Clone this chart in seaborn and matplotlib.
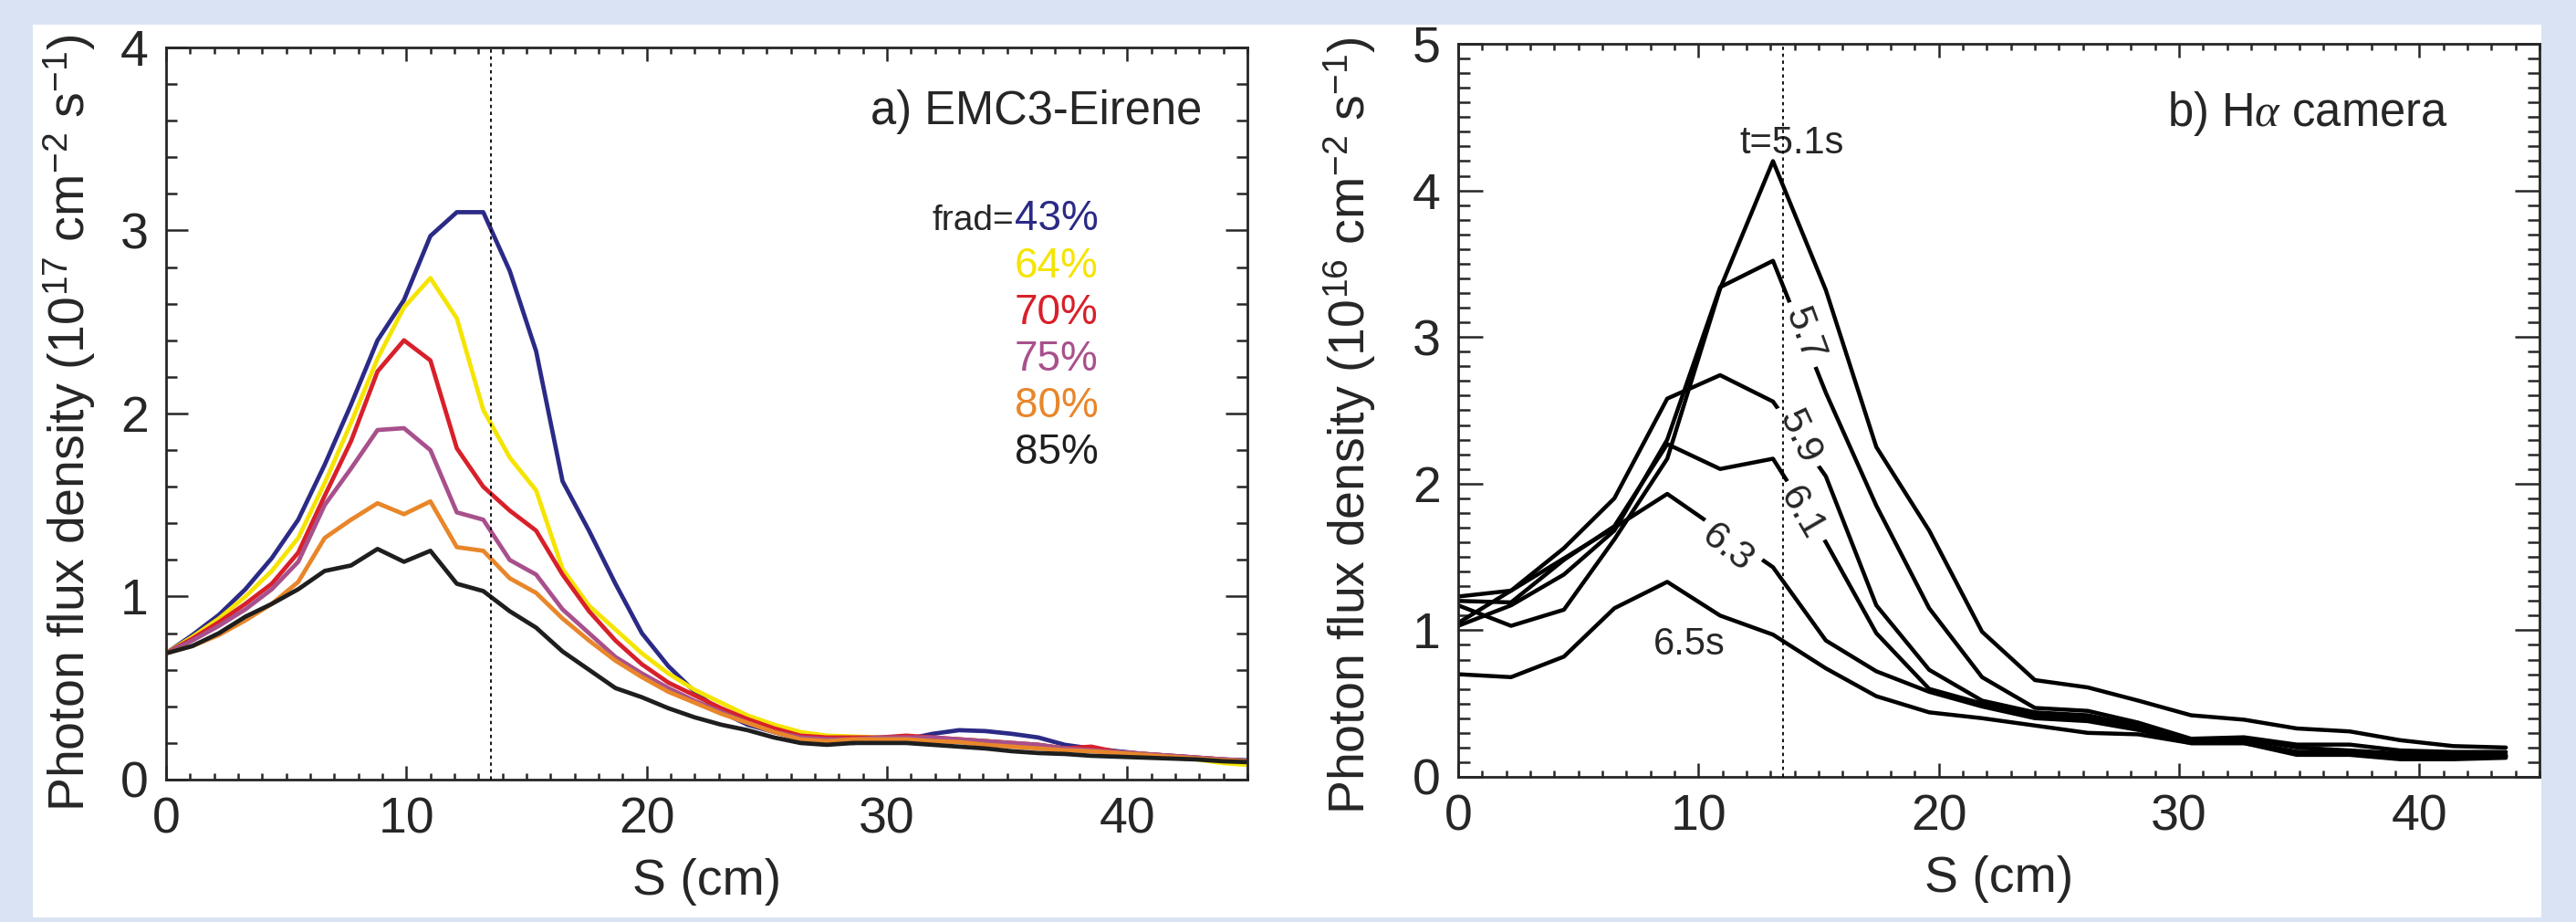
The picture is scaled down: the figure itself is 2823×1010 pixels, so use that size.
import numpy as np
import pandas as pd
import matplotlib
matplotlib.use("Agg")
import matplotlib.pyplot as plt
from matplotlib import font_manager
from matplotlib.patches import Rectangle
from matplotlib.ticker import MultipleLocator
import seaborn as sns

# ---- data: a) EMC3-Eirene ----
s_sim = [0.0, 1.1, 2.2, 3.3, 4.4, 5.5, 6.6, 7.7, 8.8, 9.9, 11.0, 12.1, 13.2, 14.3,
         15.4, 16.5, 17.6, 18.7, 19.8, 20.9, 22.0, 23.1, 24.2, 25.3, 26.4, 27.5,
         28.6, 29.7, 30.8, 31.9, 33.0, 34.1, 35.2, 36.3, 37.4, 38.5, 39.6, 40.7,
         41.8, 42.9, 44.0, 45.1]
frad_labels = ['43%', '64%', '70%', '75%', '80%', '85%']
frad_colors = ['#2b2a86', '#f5e400', '#d8202a', '#a8508c', '#e8862a', '#1e1e1e']
f43 = [0.69, 0.79, 0.90, 1.04, 1.21, 1.42, 1.72, 2.05, 2.40, 2.62, 2.97, 3.10, 3.10, 2.78,
       2.34, 1.63, 1.36, 1.07, 0.80, 0.62, 0.48, 0.37, 0.30, 0.26, 0.22, 0.21,
       0.20, 0.21, 0.22, 0.25, 0.27, 0.265, 0.25, 0.23, 0.19, 0.17, 0.155, 0.14,
       0.13, 0.12, 0.11, 0.105]
f64 = [0.69, 0.78, 0.88, 1.00, 1.14, 1.32, 1.62, 1.95, 2.30, 2.58, 2.74, 2.52, 2.02, 1.76,
       1.58, 1.15, 0.95, 0.82, 0.69, 0.58, 0.49, 0.42, 0.35, 0.30, 0.26, 0.24,
       0.235, 0.23, 0.23, 0.22, 0.22, 0.21, 0.20, 0.19, 0.17, 0.16, 0.15, 0.14,
       0.12, 0.11, 0.09, 0.08]
f70 = [0.69, 0.77, 0.86, 0.96, 1.07, 1.24, 1.55, 1.85, 2.23, 2.40, 2.29, 1.81, 1.60, 1.47,
       1.36, 1.12, 0.92, 0.76, 0.63, 0.53, 0.46, 0.39, 0.33, 0.28, 0.24, 0.23,
       0.23, 0.23, 0.24, 0.23, 0.22, 0.21, 0.20, 0.19, 0.17, 0.18, 0.15, 0.14,
       0.13, 0.12, 0.11, 0.10]
f75 = [0.69, 0.76, 0.84, 0.93, 1.04, 1.19, 1.50, 1.70, 1.91, 1.92, 1.80, 1.46, 1.42, 1.20,
       1.12, 0.93, 0.80, 0.67, 0.58, 0.50, 0.43, 0.37, 0.31, 0.26, 0.23, 0.22,
       0.22, 0.23, 0.23, 0.23, 0.22, 0.21, 0.20, 0.19, 0.17, 0.16, 0.15, 0.14,
       0.13, 0.12, 0.11, 0.10]
f80 = [0.69, 0.73, 0.79, 0.87, 0.96, 1.08, 1.32, 1.42, 1.51, 1.45, 1.52, 1.27, 1.25, 1.10,
       1.02, 0.88, 0.76, 0.65, 0.56, 0.48, 0.42, 0.36, 0.31, 0.26, 0.22, 0.21,
       0.22, 0.22, 0.22, 0.21, 0.205, 0.19, 0.18, 0.17, 0.16, 0.155, 0.145, 0.135,
       0.125, 0.115, 0.105, 0.10]
f85 = [0.69, 0.73, 0.80, 0.89, 0.96, 1.04, 1.14, 1.17, 1.26, 1.19, 1.25, 1.07, 1.03, 0.92,
       0.83, 0.70, 0.60, 0.50, 0.45, 0.39, 0.34, 0.30, 0.27, 0.23, 0.20, 0.19,
       0.20, 0.20, 0.20, 0.19, 0.18, 0.17, 0.155, 0.145, 0.14, 0.13, 0.125, 0.12,
       0.115, 0.11, 0.10, 0.095]

# ---- data: b) H-alpha camera ----
s_cam = [0.0, 2.2, 4.4, 6.5, 8.7, 10.9, 13.1, 15.3, 17.4, 19.6, 21.8, 24.0, 26.2,
         28.3, 30.5, 32.7, 34.9, 37.1, 39.2, 41.4, 43.6]
t_labels = ['5.1', '5.7', '5.9', '6.1', '6.3', '6.5']
t51 = [1.17, 1.03, 1.14, 1.62, 2.17, 3.33, 4.20, 3.32, 2.25, 1.68, 0.99, 0.66, 0.61,
       0.52, 0.42, 0.39, 0.33, 0.31, 0.25, 0.21, 0.20]
t57 = [1.03, 1.17, 1.38, 1.68, 2.30, 3.34, 3.52, 2.62, 1.85, 1.15, 0.68, 0.47, 0.45,
       0.37, 0.26, 0.27, 0.22, 0.22, 0.18, 0.17, 0.17]
t59 = [1.23, 1.27, 1.56, 1.90, 2.58, 2.74, 2.56, 2.05, 1.17, 0.73, 0.52, 0.44, 0.42,
       0.35, 0.25, 0.26, 0.20, 0.18, 0.16, 0.15, 0.15]
t61 = [1.20, 1.19, 1.48, 1.71, 2.27, 2.10, 2.17, 1.60, 0.98, 0.60, 0.50, 0.42, 0.40,
       0.33, 0.24, 0.24, 0.17, 0.17, 0.14, 0.14, 0.14]
t63 = [1.05, 1.27, 1.49, 1.70, 1.93, 1.68, 1.43, 0.93, 0.72, 0.58, 0.48, 0.40, 0.38,
       0.32, 0.23, 0.23, 0.15, 0.15, 0.12, 0.12, 0.13]
t65 = [0.70, 0.68, 0.82, 1.15, 1.33, 1.10, 0.97, 0.74, 0.55, 0.44, 0.40, 0.35, 0.30,
       0.29, 0.23, 0.23, 0.17, 0.16, 0.15, 0.14, 0.14]

sim = pd.DataFrame({'S': s_sim * 6,
                    'flux': f43 + f64 + f70 + f75 + f80 + f85,
                    'frad': np.repeat(frad_labels, len(s_sim))})
cam = pd.DataFrame({'S': s_cam * 6,
                    'flux': t51 + t57 + t59 + t61 + t63 + t65,
                    't': np.repeat(t_labels, len(s_cam))})

sns.set_style('ticks')
names = {f.name for f in font_manager.fontManager.ttflist}
narrow = 'Liberation Sans Narrow' if 'Liberation Sans Narrow' in names else 'Liberation Sans'
plt.rcParams['font.family'] = ['Liberation Sans', 'DejaVu Sans']
plt.rcParams['mathtext.fontset'] = 'custom'
plt.rcParams['mathtext.rm'] = 'Liberation Sans'
plt.rcParams['mathtext.it'] = 'Liberation Serif:italic'
plt.rcParams['axes.linewidth'] = 2.0

ink = '#262626'
fig = plt.figure(figsize=(28.23, 10.10), dpi=100, facecolor='#dae3f3')
# white panel behind both plots
fig.patches.append(Rectangle((0.01275, 0.00495), 0.9738, 0.9683, transform=fig.transFigure,
                             facecolor='white', edgecolor='none', zorder=-10))

ax1 = fig.add_axes([0.06447, 0.15446, 0.41977, 0.79406])
ax2 = fig.add_axes([0.56607, 0.15743, 0.41977, 0.79505])

sns.lineplot(data=sim, x='S', y='flux', hue='frad', hue_order=frad_labels,
             palette=dict(zip(frad_labels, frad_colors)), estimator=None,
             linewidth=3.4, legend=False, ax=ax1)
sns.lineplot(data=cam, x='S', y='flux', hue='t', hue_order=t_labels,
             palette=dict.fromkeys(t_labels, 'black'), estimator=None,
             linewidth=3.2, legend=False, ax=ax2)

ylabels = ['Photon flux density (10$^{\\mathrm{17}}$ cm$^{\\mathrm{-2}}$ s$^{\\mathrm{-1}}$)',
           'Photon flux density (10$^{\\mathrm{16}}$ cm$^{\\mathrm{-2}}$ s$^{\\mathrm{-1}}$)']
for ax, ymax, ymin_step, ylab, ymaj, ymin_len, lx, ly in [
        (ax1, 4, 0.2, ylabels[0], 17, 8.6, -0.063, 0.487),
        (ax2, 5, 0.1, ylabels[1], 19.4, 9.4, -0.074, 0.479)]:
    ax.set_xlim(0, 45)
    ax.set_ylim(0, ymax)
    ax.xaxis.set_major_locator(MultipleLocator(10))
    ax.xaxis.set_minor_locator(MultipleLocator(1))
    ax.yaxis.set_major_locator(MultipleLocator(1))
    ax.yaxis.set_minor_locator(MultipleLocator(ymin_step))
    ax.tick_params(which='both', direction='in', top=True, right=True,
                   width=1.8, color=ink, labelcolor=ink, labelsize=40)
    ax.tick_params(axis='x', which='major', length=10.8, pad=13)
    ax.tick_params(axis='x', which='minor', length=5)
    ax.tick_params(axis='y', which='major', length=ymaj, pad=14)
    ax.tick_params(axis='y', which='minor', length=ymin_len)
    for sp in ax.spines.values():
        sp.set_color(ink)
    ax.set_xlabel('S (cm)', fontsize=40, color=ink)
    ax.set_ylabel(ylab, fontsize=40, color=ink)
    ax.xaxis.set_label_coords(0.5, -0.107)
    ax.yaxis.set_label_coords(lx, ly)
    ax.axvline(13.5, color='black', linewidth=1.3, linestyle=(0, (2, 2.2)), zorder=5)

# panel a annotations
ax1.text(43.1, 3.58, 'a) EMC3-Eirene', ha='right', va='baseline', fontsize=36.5, color=ink)
row_y = [3.00, 2.745, 2.49, 2.235, 1.98, 1.725]
for lab, col, yy in zip(frad_labels, frad_colors, row_y):
    ax1.text(38.8, yy, lab, ha='right', va='baseline', fontsize=33, color=col)
ax1.text(35.3, row_y[0], 'frad=', ha='right', va='baseline', fontsize=28,
         color=ink, family=[narrow, 'DejaVu Sans'])

# panel b annotations
ax2.text(41.2, 4.44, 'b) H$\\alpha$ camera', ha='right', va='baseline', fontsize=36.5, color=ink)
ax2.text(13.9, 4.32, 't=5.1s', ha='center', va='center', fontsize=30, color=ink)
ax2.text(9.6, 0.90, '6.5s', ha='center', va='center', fontsize=30, color=ink)
inline = [('5.7', 14.4, 3.02, -70), ('5.9', 14.2, 2.32, -65),
          ('6.1', 14.3, 1.80, -60), ('6.3', 11.2, 1.56, -38)]
for lab, xx, yy, rot in inline:
    ax2.text(xx, yy, lab, ha='center', va='center', rotation=rot, fontsize=31,
             color=ink, zorder=4, rotation_mode='anchor',
             bbox=dict(facecolor='white', edgecolor='none', pad=6))

fig.savefig('out.png', dpi=100, facecolor=fig.get_facecolor())
